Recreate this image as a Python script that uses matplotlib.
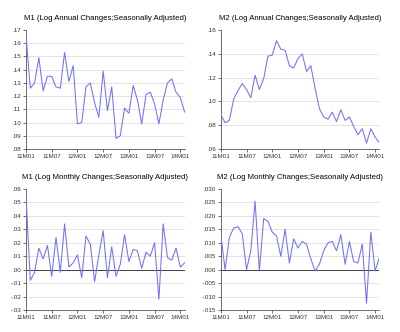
import matplotlib
matplotlib.use("Agg")
import matplotlib.pyplot as plt
from matplotlib.ticker import FuncFormatter, FixedLocator
import numpy as np

plt.rcParams['font.family'] = ['Liberation Sans', 'DejaVu Sans']

# 2011M01 .. 2014M02
tick_pos = [0, 6, 12, 18, 24, 30, 36]
tick_lab = ['11M01', '11M07', '12M01', '12M07', '13M01', '13M07', '14M01']

m1_annual = [.166, .126, .130, .149, .124, .135, .135, .127, .126, .153,
             .131, .143, .099, .100, .127, .130, .115, .104, .139, .109,
             .127, .088, .090, .111, .107, .128, .117, .099, .121, .123,
             .114, .099, .117, .130, .133, .123, .119, .108]
m2_annual = [.089, .082, .084, .102, .109, .115, .110, .103, .122, .110,
             .119, .138, .139, .151, .144, .143, .130, .128, .136, .140,
             .125, .130, .111, .094, .087, .085, .091, .083, .093, .084,
             .087, .079, .072, .077, .065, .077, .070, .065]
m1_monthly = [.055, -.008, -.002, .016, .008, .018, -.005, .024, -.002, .034,
              .002, .005, .011, -.006, .025, .019, -.009, .011, .029, -.006,
              .017, -.005, .004, .026, .006, .015, .014, .001, .013, .010,
              .020, -.022, .034, .009, .007, .016, .002, .005]
m2_monthly = [.013, .000, .012, .0155, .016, .0135, .000, .007, .0255, -.0005,
              .019, .018, .014, .0125, .005, .015, .0025, .0115, .008, .0105,
              .0095, .004, -.0005, .002, .007, .010, .0105, .007, .013, .002,
              .0105, .003, .0025, .0095, -.0125, .014, -.0005, .0045]

panels = [
    ('M1 (Log Annual Changes;Seasonally Adjusted)', m1_annual, (.08, .17), .01, 2, False),
    ('M2 (Log Annual Changes;Seasonally Adjusted)', m2_annual, (.06, .16), .02, 2, False),
    ('M1 (Log Monthly Changes;Seasonally Adjusted)', m1_monthly, (-.03, .06), .01, 2, True),
    ('M2 (Log Monthly Changes;Seasonally Adjusted)', m2_monthly, (-.015, .030), .005, 3, True),
]
rects = [
    [0.065, 0.5512, 0.3965, 0.3584],
    [0.552, 0.5512, 0.3965, 0.3584],
    [0.065, 0.0663, 0.3965, 0.3644],
    [0.552, 0.0663, 0.3965, 0.3644],
]

def fmt(dec):
    def f(v, pos):
        s = f"{v:.{dec}f}"
        if abs(v) < 1e-12:
            s = f"{0:.{dec}f}"
        return s.replace('0.', '.', 1)
    return f

fig = plt.figure(figsize=(4.0, 3.32), dpi=100)
for (title, vals, ylim, step, dec, zero), r in zip(panels, rects):
    ax = fig.add_axes(r)
    x = np.arange(len(vals))
    yt = np.arange(ylim[0], ylim[1] + step / 2, step)
    # dotted grid on inner ticks only
    for yv in yt[1:-1]:
        if zero and abs(yv) < 1e-9:
            continue
        ax.axhline(yv, color='#bdbdbd', lw=0.6, ls=(0, (1.2, 1.2)), zorder=1)
    if zero:
        ax.axhline(0, color='#404040', lw=0.7, zorder=2)
    ax.plot(x, vals, color='#7070ff', lw=0.75, zorder=3)
    ax.set_xlim(0, len(vals) - 1)
    ax.set_ylim(*ylim)
    ax.yaxis.set_major_locator(FixedLocator(yt))
    ax.yaxis.set_major_formatter(FuncFormatter(fmt(dec)))
    ax.set_xticks(tick_pos)
    ax.set_xticklabels(tick_lab)
    ax.tick_params(labelsize=4.5, length=2, width=0.5, pad=1.5, colors='#333333')
    for s in ['top', 'right']:
        ax.spines[s].set_visible(False)
    for s in ['left', 'bottom']:
        ax.spines[s].set_linewidth(0.6)
        ax.spines[s].set_color('#555555')
    ax.set_title(title, fontsize=5.6, pad=7)

fig.savefig('out.png', dpi=100)
